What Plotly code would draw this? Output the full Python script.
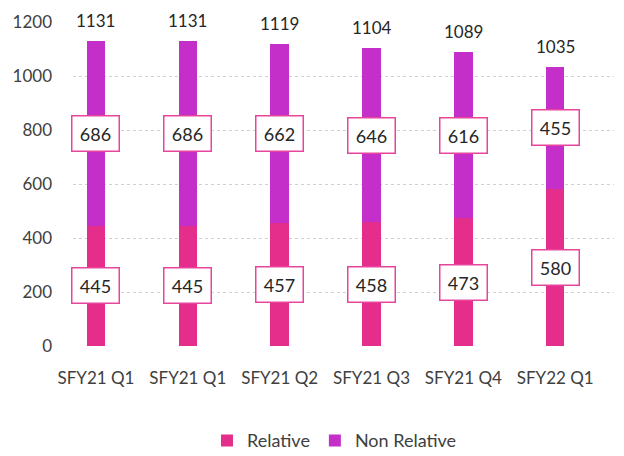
import plotly.graph_objects as go

quarters = ["SFY21 Q1", "SFY21 Q1", "SFY21 Q2", "SFY21 Q3", "SFY21 Q4", "SFY22 Q1"]
relative = [445, 445, 457, 458, 473, 580]
non_relative = [686, 686, 662, 646, 616, 455]
totals = [1131, 1131, 1119, 1104, 1089, 1035]

pink = "#E52E8B"
purple = "#C52FC9"
font = "Lato"

pos = list(range(len(quarters)))

fig = go.Figure()
fig.add_trace(go.Bar(x=pos, y=relative, name="Relative", marker_color=pink,
                     width=0.2, marker_line_width=0))
fig.add_trace(go.Bar(x=pos, y=non_relative, name="Non Relative", marker_color=purple,
                     width=0.2, marker_line_width=0))

# boxed segment labels
for i in pos:
    for base, val in ((0, relative[i]), (relative[i], non_relative[i])):
        fig.add_annotation(x=i, y=base + val / 2, text=str(val), showarrow=False,
                           font=dict(family=font, size=18, color="#262626"),
                           bgcolor="white", bordercolor="#E8449C", borderwidth=1.5,
                           width=40, height=28, borderpad=3)
    # totals above bars
    fig.add_annotation(x=i, y=totals[i], text=str(totals[i]), showarrow=False,
                       yanchor="bottom", yshift=8,
                       font=dict(family=font, size=17, color="#262626"))

# page body has an 8px margin, so the figure is sized to fit inside the window
fig.update_layout(
    width=616,
    height=448,
    barmode="stack",
    paper_bgcolor="white",
    plot_bgcolor="white",
    margin=dict(l=65, r=10, t=14, b=110),
    font=dict(family=font, size=17, color="#404040"),
    xaxis=dict(range=[-0.25, 5.64], tickvals=pos, ticktext=quarters,
               showgrid=False, zeroline=False, showline=False, automargin=False,
               ticklabelstandoff=20, tickfont=dict(size=17)),
    yaxis=dict(range=[0, 1200], dtick=200, showgrid=True, gridcolor="#D0D0D0",
               griddash="dot", gridwidth=1, zeroline=False, showline=False,
               automargin=False, ticklabelstandoff=20, tickfont=dict(size=17)),
    legend=dict(orientation="h", xref="container", yref="container",
                x=0.53, xanchor="center", y=0.034, yanchor="middle",
                font=dict(size=18), itemwidth=30, traceorder="normal"),
    showlegend=True,
)

fig.write_html("out.html")
